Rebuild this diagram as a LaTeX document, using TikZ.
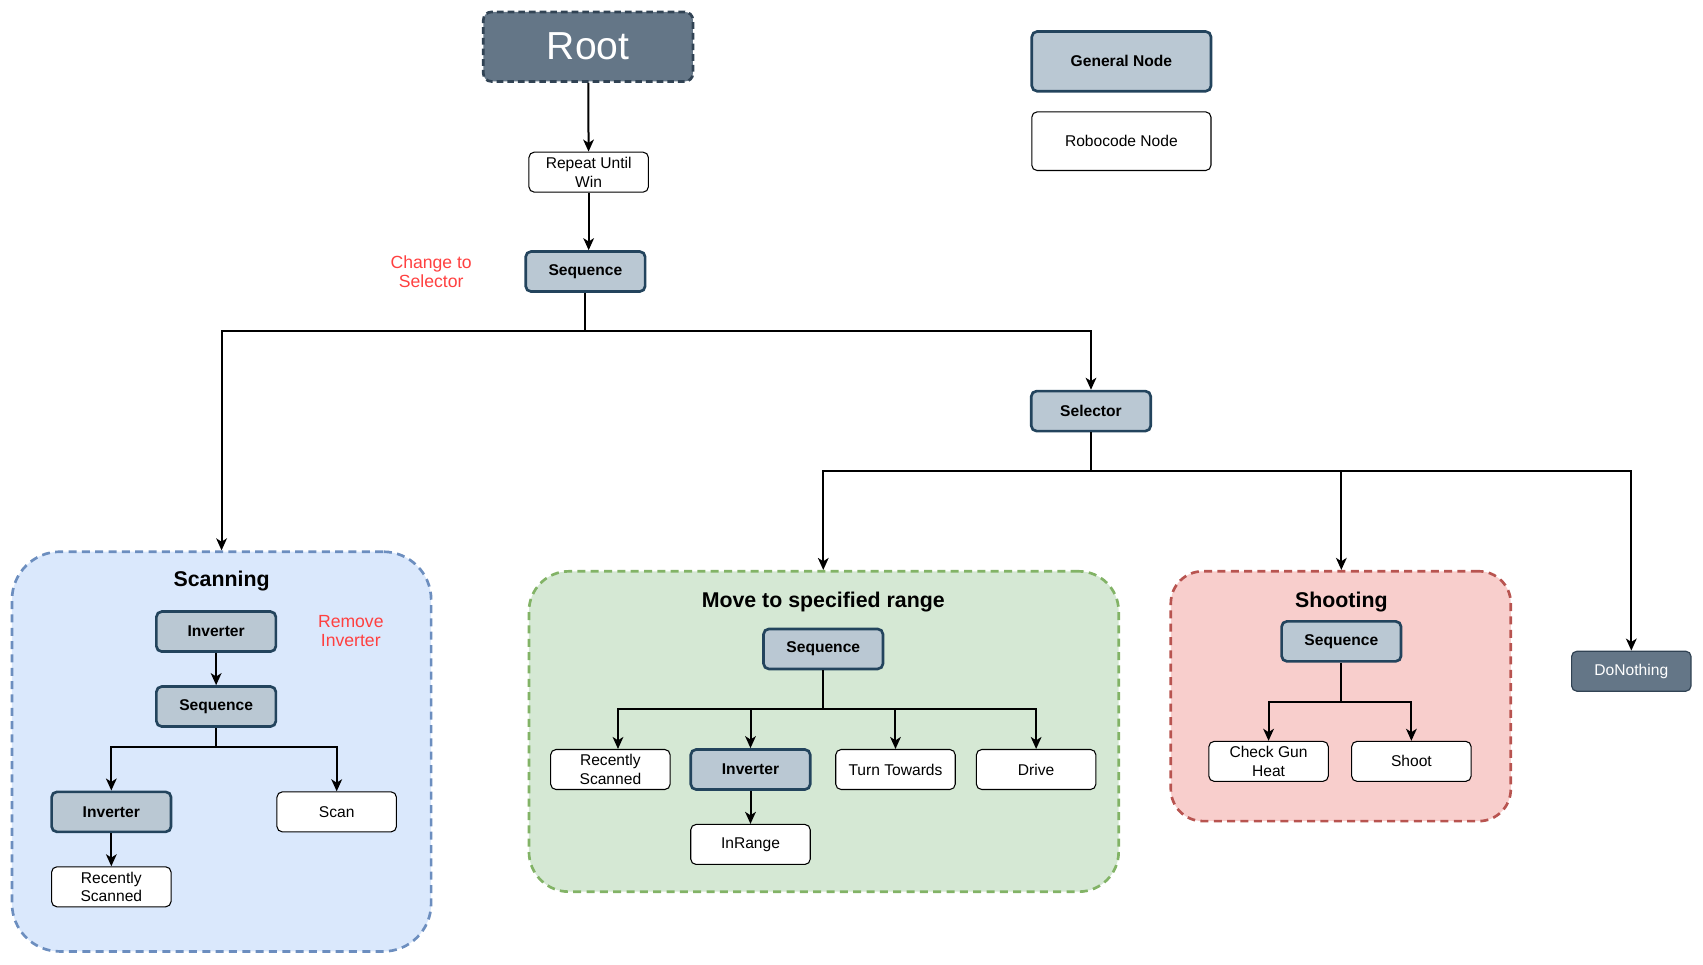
\documentclass[tikz,border=0pt]{standalone}
\usepackage{fontspec}
\setmainfont{Liberation Sans}
\usetikzlibrary{arrows.meta}
\definecolor{genfill}{HTML}{BAC8D3}
\definecolor{gendraw}{HTML}{23445D}
\definecolor{darkfill}{HTML}{647687}
\definecolor{darkdraw}{HTML}{314354}
\definecolor{bluefill}{HTML}{DAE8FC}
\definecolor{bluedraw}{HTML}{6C8EBF}
\definecolor{greenfill}{HTML}{D5E8D4}
\definecolor{greendraw}{HTML}{82B366}
\definecolor{redfill}{HTML}{F8CECC}
\definecolor{reddraw}{HTML}{B85450}
\definecolor{notered}{HTML}{FF4040}

\begin{document}
\begin{tikzpicture}[x=0.8146pt,y=-0.8146pt,
  basebox/.style={rounded corners=4pt, align=center, inner sep=0pt,
    minimum width=89.6pt, minimum height=30pt,
    font=\fontsize{11.7}{13.8}\selectfont},
  general/.style={basebox, fill=genfill, draw=gendraw, line width=2pt,
    font=\fontsize{11.7}{13.8}\selectfont\bfseries},
  robo/.style={basebox, fill=white, draw=black, line width=0.8pt},
  darknode/.style={basebox, fill=darkfill, draw=darkdraw, line width=0.9pt, text=white},
  group/.style={draw, dashed, line width=2pt, dash pattern=on 6pt off 4pt, inner sep=0pt},
  grouptitle/.style={font=\fontsize{16}{19}\selectfont\bfseries, inner sep=0pt},
  note/.style={text=notered, align=center, inner sep=0pt,
    font=\fontsize{13.2}{14.7}\selectfont},
  conn/.style={draw=black, line width=1.5pt,
    -{Stealth[length=9pt, width=8pt, inset=2.5pt]}},
  plain/.style={draw=black, line width=1.5pt}
]
\useasboundingbox (0,0) rectangle (1568,888);

% ---- group containers ----
\node[group, fill=bluefill, draw=bluedraw, rounded corners=36pt,
  minimum width=314.4pt, minimum height=299.8pt] (scanbox) at (204,692) {};
\node[group, fill=greenfill, draw=greendraw, rounded corners=30pt,
  minimum width=442.3pt, minimum height=240.3pt] (movebox) at (758.5,673.5) {};
\node[group, fill=redfill, draw=reddraw, rounded corners=24pt,
  minimum width=255pt, minimum height=187.4pt] (shootbox) at (1234.5,641) {};

\node[grouptitle] (scantitle) at (204,535) {Scanning};
\node[grouptitle] (movetitle) at (758,554) {Move to specified range};
\node[grouptitle] (shoottitle) at (1235,554) {Shooting};

% ---- top of the tree ----
\node[darknode, draw=darkdraw, line width=2pt, dashed, dash pattern=on 5pt off 3pt,
  rounded corners=6pt, minimum width=157.2pt, minimum height=52.1pt,
  font=\fontsize{29.3}{32}\selectfont] (root) at (541.5,43) {Root};
\node[robo] (repeat) at (542,158.5) {Repeat Until\\Win};
\node[general] (seq0) at (539,250) {Sequence};
\node[note] (changenote) at (397,250) {Change to\\Selector};
\node[general] (sel) at (1004.5,378.5) {Selector};

% ---- legend ----
\node[general, minimum width=134.4pt, minimum height=44.8pt] (leggen) at (1032.5,56.5) {General Node};
\node[robo, minimum width=134.4pt, minimum height=44pt] (legrobo) at (1032.5,130) {Robocode Node};

% ---- scanning ----
\node[general] (inv1) at (199,581.5) {Inverter};
\node[note] (removenote) at (323,581) {Remove\\Inverter};
\node[general] (seq1) at (199,650.5) {Sequence};
\node[general] (inv2) at (102.5,747.5) {Inverter};
\node[robo] (scan) at (310,747.5) {Scan};
\node[robo] (rs1) at (102.5,816.5) {Recently\\Scanned};

% ---- move to specified range ----
\node[general] (seq2) at (758,597.5) {Sequence};
\node[robo] (rs2) at (562,708.5) {Recently\\Scanned};
\node[general] (inv3) at (691,708.5) {Inverter};
\node[robo] (turn) at (824.5,708.5) {Turn Towards};
\node[robo] (drive) at (954,708.5) {Drive};
\node[robo] (inrange) at (691,777.5) {InRange};

% ---- shooting ----
\node[general] (seq3) at (1235,590.5) {Sequence};
\node[robo] (cgh) at (1168,701) {Check Gun\\Heat};
\node[robo] (shoot) at (1299.5,701) {Shoot};

\node[darknode] (donothing) at (1502,618) {DoNothing};

% ---- bus points of the branching connectors ----
\coordinate (bus0) at (539,305);
\coordinate (bussel) at (1004.5,434);
\coordinate (bus1) at (199,688);
\coordinate (bus2) at (758,653);
\coordinate (bus3) at (1235,646);

% ---- connectors ----
\draw[conn] (root) -- (repeat);
\draw[conn] (repeat.south) -- (repeat.south |- seq0.north);
\draw[plain] (seq0.south) -- (bus0);
\draw[conn] (bus0) -| (scanbox.north);
\draw[conn] (bus0) -| (sel.north);

\draw[plain] (sel.south) -- (bussel);
\draw[conn] (bussel) -| (movebox.north -| seq2.north);
\draw[conn] (bussel) -| (shootbox.north -| seq3.north);
\draw[conn] (bussel) -| (donothing.north);

\draw[conn] (inv1) -- (seq1);
\draw[plain] (seq1.south) -- (bus1);
\draw[conn] (bus1) -| (inv2.north);
\draw[conn] (bus1) -| (scan.north);
\draw[conn] (inv2) -- (rs1);

\draw[plain] (seq2.south) -- (bus2);
\draw[conn] (bus2) -| ([xshift=5.7pt]rs2.north);
\draw[conn] (bus2) -| (inv3.north);
\draw[conn] (bus2) -| (turn.north);
\draw[conn] (bus2) -| (drive.north);
\draw[conn] (inv3) -- (inrange);

\draw[plain] (seq3.south) -- (bus3);
\draw[conn] (bus3) -| (cgh.north);
\draw[conn] (bus3) -| (shoot.north);
\end{tikzpicture}
\end{document}
